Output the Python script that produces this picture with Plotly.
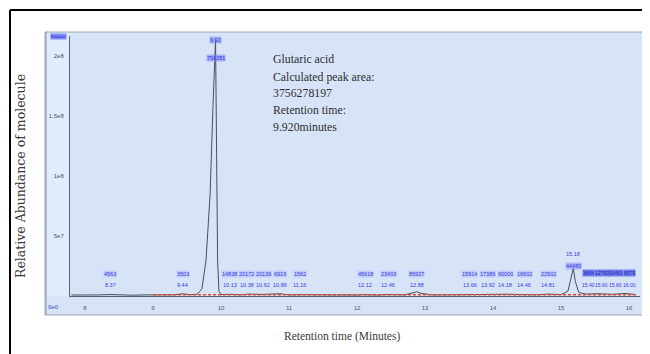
import plotly.graph_objects as go

# ---------------- data ----------------
rt_min = [7.80, 8.00, 8.20, 8.37, 8.50, 8.70, 8.90, 9.10, 9.30, 9.44, 9.55, 9.65, 9.72,
          9.78, 9.84, 9.88, 9.91, 9.92, 9.935, 9.95, 9.97, 10.00, 10.13, 10.30, 10.40,
          10.62, 10.86, 11.00, 11.16, 11.40, 11.70, 12.00, 12.10, 12.30, 12.46, 12.70,
          12.82, 12.88, 12.94, 13.10, 13.40, 13.66, 13.92, 14.18, 14.46, 14.65, 14.81,
          15.00, 15.10, 15.15, 15.18, 15.21, 15.26, 15.36, 15.55, 15.75, 15.95, 16.10]
abundance = [0.8e6, 0.7e6, 0.9e6, 1.2e6, 0.8e6, 0.7e6, 0.9e6, 0.8e6, 1.0e6, 1.8e6, 1.1e6, 1.5e6, 6.0e6,
             3.0e7, 8.5e7, 1.55e8, 2.05e8, 2.14e8, 1.2e8, 3.0e7, 4.0e6, 1.2e6, 1.4e6, 1.0e6, 1.6e6,
             1.3e6, 1.9e6, 0.9e6, 1.1e6, 0.8e6, 0.9e6, 0.8e6, 1.1e6, 0.8e6, 1.2e6, 0.9e6,
             2.5e6, 3.6e6, 2.2e6, 0.9e6, 1.0e6, 1.3e6, 1.2e6, 1.5e6, 1.1e6, 1.0e6, 1.6e6,
             1.2e6, 4.0e6, 1.5e7, 2.3e7, 1.2e7, 3.0e6, 1.6e6, 1.9e6, 1.4e6, 2.1e6, 1.2e6]

baseline_rt = [9.00, 16.10]
baseline_val = [1.0e6, 1.0e6]

x_tick_vals = [8, 9, 10, 11, 12, 13, 14, 15, 16]
x_tick_text = ["8", "9", "10", "11", "12", "13", "14", "15", "16"]
y_tick_vals = [5e7, 1e8, 1.5e8, 2e8]
y_tick_text = ["5e7", "1e8", "1.5e8", "2e8"]

# small peak labels: retention time, area (upper row), rt text (lower row)
small_rt = [8.37, 9.44, 10.13, 10.38, 10.62, 10.86, 11.16, 12.12, 12.46, 12.88,
            13.66, 13.92, 14.18, 14.46, 14.81]
small_area = ["4563", "3503", "14838", "20172", "20139", "6919", "1562", "45618", "23403", "85927",
              "15914", "17389", "90000", "16602", "22502"]
small_rt_text = ["8.37", "9.44", "10.13", "10.38", "10.62", "10.86", "11.16", "12.12", "12.46", "12.88",
                 "13.66", "13.92", "14.18", "14.46", "14.81"]

dense_rt = [15.40, 15.60, 15.80, 16.00]
dense_area = ["3894", "12750", "90451", "8579"]
dense_rt_text = ["15.40", "15.60", "15.80", "16.00"]

main_rt = 9.92
main_labels = ["9.92", "756281"]
second_rt = 15.18
second_labels = ["15.18", "44480"]

info_lines = ["Glutaric acid", "Calculated peak area:", "3756278197", "Retention time:", "9.920minutes"]

# ---------------- layout geometry ----------------
# the page body has an 8px margin, so reference pixel p sits at figure pixel p - 8
OFF = 8
W, H = 650 - OFF, 354 - OFF
L, R, T, B = 70 - OFF, 10, 36 - OFF, 58
PW, PH = W - L - R, H - T - B


def px(xp):
    return (xp - OFF - L) / PW


def py(yp):
    return (H - B - (yp - OFF)) / PH


PANEL = "#d7e4f8"

fig = go.Figure()
fig.add_trace(go.Scatter(x=rt_min, y=abundance, mode="lines",
                         line=dict(color="#4a4f58", width=1), hoverinfo="skip", showlegend=False))
fig.add_trace(go.Scatter(x=baseline_rt, y=baseline_val, mode="lines",
                         line=dict(color="#e4482a", width=1.5, dash="3px,2px"), hoverinfo="skip",
                         showlegend=False))

ann = []


def lab(x, yp, text, font, bg=None, xref="x"):
    d = dict(x=x, y=py(yp), xref=xref, yref="paper", text=text, showarrow=False,
             xanchor="center", yanchor="middle", font=font, borderpad=0)
    if bg:
        d["bgcolor"] = bg
    return d


lab_font = dict(family="Liberation Sans", size=5.5, color="#3838e8")
for r, a, t in zip(small_rt, small_area, small_rt_text):
    ann.append(lab(r, 274, a, lab_font, "rgba(150,165,250,0.35)"))
    ann.append(lab(r, 285, t, lab_font))
dense_font = dict(family="Liberation Sans", size=5, color="#2020c0")
for r, a, t in zip(dense_rt, dense_area, dense_rt_text):
    ann.append(lab(r, 273, a, dense_font, "rgba(80,95,230,0.75)"))
    ann.append(lab(r, 285, t, dict(family="Liberation Sans", size=5, color="#3838e8")))
ann.append(lab(main_rt, 40, main_labels[0], lab_font, "rgba(120,135,245,0.55)"))
ann.append(lab(main_rt, 58, main_labels[1], lab_font, "rgba(120,135,245,0.55)"))
ann.append(lab(second_rt, 254, second_labels[0], lab_font))
ann.append(lab(second_rt, 266, second_labels[1], lab_font, "rgba(120,135,245,0.45)"))

# info text block
for line, yp in zip(info_lines, [59, 77, 93, 110, 127]):
    ann.append(dict(x=px(271), y=py(yp), xref="paper", yref="paper", text=line, showarrow=False,
                    xanchor="left", yanchor="middle",
                    font=dict(family="Liberation Serif", size=11.8, color="#2e2e2e")))

# axis titles
ann.append(dict(x=px(20), y=py(176), xref="paper", yref="paper", text="Relative Abundance of molecule",
                showarrow=False, textangle=-90, xanchor="center", yanchor="middle",
                font=dict(family="DejaVu Serif", size=12.5, color="#3a3a3a")))
ann.append(dict(x=px(342), y=py(336), xref="paper", yref="paper", text="Retention time (Minutes)",
                showarrow=False, xanchor="center", yanchor="middle",
                font=dict(family="Liberation Serif", size=11.5, color="#3a3a3a")))

# small corner labels
ann.append(lab(px(58), 36, "Relative",
               dict(family="Liberation Sans", size=4, color="#2a2ad0"),
               "rgba(100,115,240,0.8)", xref="paper"))
ann.append(lab(px(53), 307, "0e0", dict(family="Liberation Sans", size=6, color="#3848c8"),
               xref="paper"))

shapes = [
    # outer panel
    dict(type="rect", xref="paper", yref="paper", x0=px(45), x1=px(645), y0=py(315), y1=py(32),
         fillcolor=PANEL, line=dict(color="#9aa4b4", width=1), layer="below"),
    # left column
    dict(type="rect", xref="paper", yref="paper", x0=px(46), x1=px(70), y0=py(296), y1=py(33),
         fillcolor="#e0ebfc", line=dict(width=0), layer="below"),
    dict(type="line", xref="paper", yref="paper", x0=px(46), x1=px(46), y0=py(315), y1=py(32),
         line=dict(color="#8e98a8", width=1)),
    # outer black frame
    dict(type="line", xref="paper", yref="paper", x0=px(10), x1=px(650), y0=py(10), y1=py(10),
         line=dict(color="#000000", width=2)),
    dict(type="line", xref="paper", yref="paper", x0=px(10), x1=px(10), y0=py(10), y1=py(354),
         line=dict(color="#000000", width=2)),
    dict(type="line", xref="paper", yref="paper", x0=px(648), x1=px(648), y0=py(10), y1=py(354),
         line=dict(color="#000000", width=1.5)),
]

fig.update_layout(
    width=W, height=H,
    margin=dict(l=L, r=R, t=T, b=B),
    paper_bgcolor="#ffffff",
    plot_bgcolor=PANEL,
    showlegend=False,
    annotations=ann,
    shapes=shapes,
    xaxis=dict(range=[7.78, 16.16], tickvals=x_tick_vals, ticktext=x_tick_text,
               showline=True, linecolor="#5a6270", linewidth=1, showgrid=False, zeroline=False,
               ticks="", ticklabelstandoff=6,
               tickfont=dict(family="Liberation Sans", size=6, color="#48546e")),
    yaxis=dict(range=[0, 2.17e8], tickvals=y_tick_vals, ticktext=y_tick_text,
               showline=True, linecolor="#5a6270", linewidth=1, showgrid=False, zeroline=False,
               ticks="", ticklabelstandoff=4,
               tickfont=dict(family="Liberation Sans", size=6, color="#48546e")),
)

fig.write_html("out.html")
